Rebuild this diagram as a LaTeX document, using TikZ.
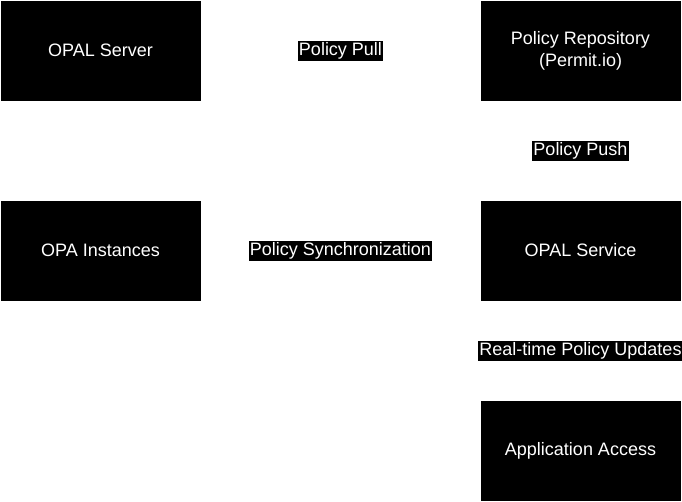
\documentclass[tikz,border=0pt]{standalone}
\usepackage{fontspec}
\setmainfont{Liberation Sans}

\begin{document}
\begin{tikzpicture}[x = 1pt, y = -1pt,
        box/.style = {minimum width = 200pt, minimum height = 100pt, fill = black, text = white, inner sep = 0pt, align = center, font = \fontsize{18}{22}\selectfont},
        tag/.style = {fill = black, text = white, inner xsep = 1pt, inner ysep = 2pt, yshift = -0.5pt, font = \fontsize{18}{21}\selectfont}]
    \useasboundingbox (0, 0) rectangle (682, 501);
    \node[box] (server) at (100.5, 50.5) {OPAL Server};
    \node[box] (repo) at (580.5, 50.5) {Policy Repository\\(Permit.io)};
    \node[box] (instances) at (100.5, 250.5) {OPA Instances};
    \node[box] (service) at (580.5, 250.5) {OPAL Service};
    \node[box] (access) at (580.5, 450.5) {Application Access};
    \path (server) -- (repo) node[midway, tag] {Policy Pull}
          (repo) -- (service) node[midway, tag] {Policy Push}
          (instances) -- (service) node[midway, tag] {Policy Synchronization}
          (service) -- (access) node[midway, tag] {Real-time Policy Updates};
\end{tikzpicture}
\end{document}
